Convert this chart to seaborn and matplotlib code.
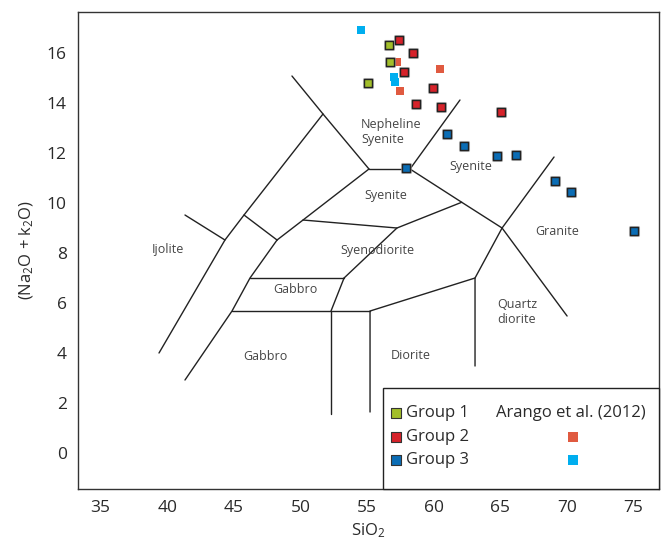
import matplotlib
matplotlib.use("Agg")
import matplotlib.pyplot as plt
import matplotlib.patheffects as pe
from matplotlib.patches import Rectangle
import seaborn as sns
import pandas as pd

sns.set_style("white")
plt.rcParams['font.family'] = ['Open Sans', 'DejaVu Sans']
plt.rcParams['mathtext.fontset'] = 'custom'
plt.rcParams['mathtext.rm'] = 'Open Sans'
plt.rcParams['mathtext.default'] = 'regular'

# ---- sample compositions (SiO2 wt%, Na2O + K2O wt%) ----
g1_sio2 = [56.64, 56.70, 55.07]
g1_alk = [16.32, 15.65, 14.80]

g2_sio2 = [57.39, 58.45, 57.77, 59.92, 58.69, 60.55, 65.07]
g2_alk = [16.52, 16.00, 15.23, 14.59, 13.96, 13.84, 13.63]

g3_sio2 = [57.92, 60.98, 62.30, 64.75, 66.20, 69.11, 70.33, 75.04]
g3_alk = [11.40, 12.75, 12.29, 11.88, 11.91, 10.87, 10.44, 8.89]

arango_a_sio2 = [57.27, 60.47, 57.47]
arango_a_alk = [15.65, 15.37, 14.49]
arango_b_sio2 = [54.52, 57.00, 57.09]
arango_b_alk = [16.92, 15.05, 14.85]

group_names = ["Group 1", "Group 2", "Group 3"]
group_colors = ["#a2be2a", "#d6222a", "#0b6db5"]
arango_colors = ["#e05a40", "#00aeef"]

# ---- plutonic TAS field boundaries (SiO2, alkalis) ----
fields = [
    [(49.36, 15.08), (51.69, 13.56), (55.14, 11.36)],
    [(39.38, 4.00), (44.33, 8.52), (45.76, 9.52), (51.69, 13.56)],
    [(41.33, 9.52), (44.33, 8.52)],
    [(45.76, 9.52), (48.24, 8.52)],
    [(48.24, 8.52), (46.21, 7.00), (44.86, 5.68), (41.33, 2.92)],
    [(48.24, 8.52), (50.19, 9.32), (55.14, 11.36)],
    [(55.14, 11.36), (58.22, 11.36)],
    [(58.22, 11.36), (61.97, 14.12)],
    [(58.22, 11.36), (62.10, 10.03), (65.13, 9.00), (70.01, 5.48)],
    [(65.13, 9.00), (69.03, 11.84)],
    [(65.13, 9.00), (63.10, 7.00), (63.10, 3.48)],
    [(63.10, 7.00), (55.22, 5.68), (55.22, 1.64)],
    [(44.86, 5.68), (52.29, 5.68), (55.22, 5.68)],
    [(52.29, 5.68), (52.29, 1.56)],
    [(52.29, 5.68), (53.27, 7.00)],
    [(46.21, 7.00), (53.27, 7.00)],
    [(53.27, 7.00), (57.24, 9.00), (62.10, 10.03)],
    [(50.19, 9.32), (57.24, 9.00)],
]

field_labels = [
    ("Nepheline\nSyenite", 54.54, 12.85, "left"),
    ("Syenite", 56.41, 10.32, "center"),
    ("Syenite", 62.80, 11.45, "center"),
    ("Granite", 69.23, 8.88, "center"),
    ("Syenodiorite", 55.80, 8.12, "center"),
    ("Gabbro", 49.59, 6.55, "center"),
    ("Gabbro", 47.34, 3.88, "center"),
    ("Ijolite", 40.05, 8.15, "center"),
    ("Quartz\ndiorite", 64.77, 5.64, "left"),
    ("Diorite", 58.26, 3.92, "center"),
]

x_ticks = [35, 40, 45, 50, 55, 60, 65, 70, 75]
y_ticks = [0, 2, 4, 6, 8, 10, 12, 14, 16]

samples = pd.DataFrame({
    "SiO2": g1_sio2 + g2_sio2 + g3_sio2,
    "alk": g1_alk + g2_alk + g3_alk,
    "group": [group_names[0]] * len(g1_sio2)
             + [group_names[1]] * len(g2_sio2)
             + [group_names[2]] * len(g3_sio2),
})
arango = pd.DataFrame({
    "SiO2": arango_a_sio2 + arango_b_sio2,
    "alk": arango_a_alk + arango_b_alk,
    "set": ["a"] * len(arango_a_sio2) + ["b"] * len(arango_b_sio2),
})

fig = plt.figure(figsize=(6.61, 5.40), dpi=100)
ax = fig.add_axes([0.1180, 0.0944, 0.8790, 0.8843])

for line in fields:
    xs, ys = zip(*line)
    ax.plot(xs, ys, color="#222222", lw=1.0, zorder=2, solid_joinstyle="miter")

for text, x, y, ha in field_labels:
    ax.text(x, y, text, ha=ha, va="center", fontsize=9, color="#454545",
            linespacing=1.25, zorder=2)

shadow = [pe.withStroke(linewidth=2.2, foreground="#9a9a9a", alpha=0.7)]

sns.scatterplot(data=arango, x="SiO2", y="alk", hue="set",
                palette=dict(zip(["a", "b"], arango_colors)),
                marker="s", s=34, linewidth=0, legend=False, ax=ax, zorder=3)
sns.scatterplot(data=samples, x="SiO2", y="alk", hue="group",
                palette=dict(zip(group_names, group_colors)),
                marker="s", s=34, edgecolor="#222222", linewidth=1.0,
                legend=False, ax=ax, zorder=4)
ax.collections[-1].set_path_effects(shadow)

ax.set_xlim(33.30, 76.91)
ax.set_ylim(-1.44, 17.66)
ax.set_xticks(x_ticks)
ax.set_yticks(y_ticks)
ax.tick_params(length=0, labelsize=12.5, colors="#2a2a2a", pad=8)
ax.set_xlabel("SiO$_2$", fontsize=12, color="#2a2a2a", labelpad=4)
ax.set_ylabel("(Na$_2$O + k$_2$O)", fontsize=12, color="#2a2a2a", labelpad=8)
for s in ax.spines.values():
    s.set_color("#333333")
    s.set_linewidth(1.0)

# legend box in the lower right corner
ax.add_patch(Rectangle((0.525, 0.0), 0.475, 0.2115, transform=ax.transAxes,
                       facecolor="white", edgecolor="#222222", lw=1.0,
                       zorder=5, clip_on=False))
leg_y = [0.159, 0.109, 0.060]
for name, color, y in zip(group_names, group_colors, leg_y):
    ax.scatter([0.547], [y], transform=ax.transAxes, marker="s", s=48,
               color=color, edgecolor="#333333", linewidth=0.8, zorder=6,
               clip_on=False)
    ax.text(0.5645, y, name, transform=ax.transAxes, ha="left", va="center",
            fontsize=12, color="#2a2a2a", zorder=6)
ax.text(0.8485, leg_y[0], "Arango et al. (2012)", transform=ax.transAxes,
        ha="center", va="center", fontsize=12, color="#2a2a2a", zorder=6)
for color, y in zip(arango_colors, leg_y[1:]):
    ax.scatter([0.852], [y], transform=ax.transAxes, marker="s", s=48,
               color=color, linewidth=0, zorder=6, clip_on=False)

fig.savefig("out.png", dpi=100)
